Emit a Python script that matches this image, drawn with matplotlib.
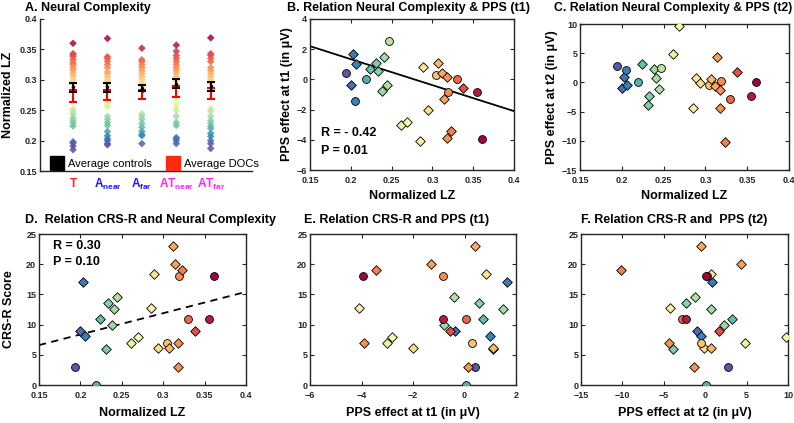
import numpy as np
import matplotlib
matplotlib.use("Agg")
import matplotlib.pyplot as plt
from matplotlib.lines import Line2D

plt.rcParams['font.family'] = ['Liberation Sans', 'DejaVu Sans']
plt.rcParams['mathtext.fontset'] = 'custom'
plt.rcParams['mathtext.rm'] = 'Liberation Sans'
plt.rcParams['mathtext.bf'] = 'Liberation Sans:bold'

# ---------------- data (per subject) ----------------
lz = [0.194, 0.200, 0.203, 0.205, 0.206, 0.219, 0.224, 0.231, 0.233, 0.238,
      0.241, 0.244, 0.247, 0.261, 0.269, 0.285, 0.289, 0.294, 0.304, 0.307,
      0.312, 0.314, 0.318, 0.318, 0.319, 0.323, 0.330, 0.338, 0.355, 0.361]
pps_t1 = [0.4, -0.35, 1.65, -1.45, 1.0, 0.05, 0.7, 1.1, 0.55, -0.8,
          1.5, -0.4, 2.55, -3.0, -2.8, -4.1, 0.85, -2.0, 0.28, 1.1,
          0.4, -1.3, 0.15, -3.9, -0.85, -3.45, 0.05, -0.55, -0.85, -3.95]
pps_t2 = [2.8, -1.0, 0.85, 2.2, -0.5, 0.1, 3.2, -3.9, -2.3, 2.3,
          0.7, -1.2, 2.4, 4.85, 9.7, -4.3, 0.75, -0.1, -0.45, 0.65,
          -0.55, 4.3, -1.3, -4.4, 0.25, -10.2, -2.85, 1.7, -2.3, 0.1]
crsr = [3, 9, 17, np.nan, 8.1, 0, 11, 6, 13.6, 10,
        12.6, 14.5, np.nan, 7, 8, 12.7, 18.4, 6.2, 7, 6.2,
        23, 20, 3, 7, 18, 19, 11, 9, 11, 18]
shape = ['o', 'D', 'D', 'o', 'D', 'o', 'D', 'D', 'D', 'D',
         'D', 'D', 'o', 'D', 'D', 'D', 'D', 'D', 'o', 'D',
         'D', 'D', 'D', 'D', 'o', 'D', 'o', 'D', 'o', 'o']

# regression line shown in panel B (as reported in the figure)
fit_t1_slope = -17.2
fit_t1_intercept = 4.78

# ---------------- panel A data ----------------
conditions = ['T', 'A_near', 'A_far', 'AT_near', 'AT_far']
lz_T = [0.360, 0.343, 0.341, 0.338, 0.333, 0.328, 0.325, 0.320, 0.316, 0.311,
        0.306, 0.300, 0.296, 0.292, 0.252, 0.248, 0.243, 0.237, 0.233, 0.229,
        0.224, 0.198, 0.196, 0.191, 0.185]
lz_Anear = [0.368, 0.338, 0.335, 0.330, 0.325, 0.320, 0.313, 0.310, 0.305, 0.300,
            0.296, 0.290, 0.265, 0.260, 0.256, 0.240, 0.235, 0.230, 0.225, 0.215,
            0.208, 0.203, 0.200, 0.195, 0.193]
lz_Afar = [0.352, 0.333, 0.330, 0.325, 0.320, 0.315, 0.310, 0.305, 0.300, 0.295,
           0.290, 0.244, 0.240, 0.235, 0.228, 0.222, 0.215, 0.210, 0.208, 0.195]
lz_ATnear = [0.357, 0.347, 0.340, 0.335, 0.330, 0.325, 0.320, 0.315, 0.310, 0.305,
             0.300, 0.290, 0.270, 0.265, 0.258, 0.250, 0.240, 0.230, 0.225, 0.205,
             0.203, 0.200, 0.195]
lz_ATfar = [0.369, 0.343, 0.340, 0.335, 0.330, 0.320, 0.315, 0.310, 0.305, 0.300,
            0.295, 0.252, 0.248, 0.240, 0.233, 0.228, 0.223, 0.220, 0.212, 0.207,
            0.200, 0.195, 0.187]
ctrl_mean = [0.288, 0.288, 0.2865, 0.2935, 0.2895]
ctrl_lo = [0.280, 0.280, 0.282, 0.286, 0.282]
ctrl_hi = [0.295, 0.295, 0.291, 0.301, 0.297]
doc_mean = [0.283, 0.283, 0.282, 0.289, 0.286]
doc_lo = [0.264, 0.266, 0.268, 0.271, 0.268]
doc_hi = [0.284, 0.284, 0.284, 0.290, 0.287]

# ---------------- styling ----------------
W, H = 794, 423
fig = plt.figure(figsize=(W / 100, H / 100), dpi=100)
cmap = plt.get_cmap('Spectral_r')
norm = plt.Normalize(0.19, 0.362)
GRAY = '#262626'
TICK_FS = 6.5
LAB_FS = 9
TITLE_FS = 9


def add_ax(x0, y0, x1, y1):
    return fig.add_axes([x0 / W, 1 - y1 / H, (x1 - x0) / W, (y1 - y0) / H])


def style(ax, box=True):
    for s in ax.spines.values():
        s.set_color(GRAY)
        s.set_linewidth(1.0)
    ax.tick_params(direction='in', length=3, width=0.8, colors=GRAY,
                   labelsize=TICK_FS, top=box, right=box, pad=2)
    ax.tick_params(axis='x', pad=4)
    for lab in ax.get_xticklabels() + ax.get_yticklabels():
        lab.set_fontweight('bold')


def title(x, y, txt, ha='left', fs=TITLE_FS):
    fig.text(x / W, 1 - y / H, txt, fontsize=fs, fontweight='bold',
             ha=ha, va='center', color='black')


def scatter_subjects(ax, xs, ys):
    for xv, yv, m, l in zip(xs, ys, shape, lz):
        if np.isnan(xv) or np.isnan(yv):
            continue
        ax.scatter([xv], [yv], marker=m, s=32 if m == 'o' else 24,
                   facecolor=cmap(norm(l)), edgecolor='black', linewidth=0.6,
                   zorder=3)


# ---------------- Panel A ----------------
axA = add_ax(40, 19, 252, 171)
groups = [lz_T, lz_Anear, lz_Afar, lz_ATnear, lz_ATfar]
xpos = np.arange(1, 6)
for xp, g in zip(xpos, groups):
    ax_vals = np.array(g)
    axA.scatter(np.full(len(ax_vals), xp), ax_vals, marker='D', s=15,
                c=[cmap(norm(v)) for v in ax_vals], edgecolor='none',
                alpha=0.85, zorder=2)
cm = np.array(ctrl_mean)
axA.errorbar(xpos, cm, yerr=[cm - np.array(ctrl_lo), np.array(ctrl_hi) - cm],
             fmt='.', color='black', ecolor='black', capsize=3, elinewidth=1.5,
             capthick=1.5, markersize=3, zorder=4)
dm = np.array(doc_mean)
axA.errorbar(xpos, dm, yerr=[dm - np.array(doc_lo), np.array(doc_hi) - dm],
             fmt='.', color='red', ecolor='red', capsize=3, elinewidth=1.5,
             capthick=1.5, markersize=3, zorder=3)
axA.set_xlim(0.04, 6.2)
axA.set_ylim(0.15, 0.4)
axA.set_yticks([0.15, 0.2, 0.25, 0.3, 0.35, 0.4])
axA.set_yticklabels(['0.15', '0.2', '0.25', '0.3', '0.35', '0.4'])
axA.spines['top'].set_visible(False)
axA.spines['right'].set_visible(False)
axA.set_xticks(xpos)
xlabs = [r'$\mathbf{T}$', r'$\mathbf{A}_{\mathbf{near}}$', r'$\mathbf{A}_{\mathbf{far}}$',
         r'$\mathbf{AT}_{\mathbf{near}}$', r'$\mathbf{AT}_{\mathbf{far}}$']
axA.set_xticklabels(xlabs)
style(axA, box=False)
axA.tick_params(axis='x', length=0, labelsize=8.5, pad=4)
for lab, col in zip(axA.get_xticklabels(), ['#ff2020', '#1a1aff', '#1a1aff', '#ff22ff', '#ff22ff']):
    lab.set_color(col)
axA.set_ylabel('Normalized LZ', fontsize=LAB_FS, fontweight='bold', labelpad=4)
handles = [Line2D([], [], marker='s', color='black', linestyle='none', markersize=10),
           Line2D([], [], marker='s', color='#ff2a10', linestyle='none', markersize=10)]
axA.legend(handles, ['Average controls', 'Average DOCs'], ncol=2, frameon=False,
           loc='lower left', bbox_to_anchor=(0.0, -0.05), fontsize=8,
           handletextpad=0.4, columnspacing=1.3, handlelength=1.2)
title(25, 8, 'A. Neural Complexity')

# ---------------- Panel B ----------------
axB = add_ax(310, 19, 514, 170)
scatter_subjects(axB, lz, pps_t1)
xx = np.array([0.15, 0.4])
axB.plot(xx, fit_t1_intercept + fit_t1_slope * xx, color='black', lw=1.3, zorder=2)
axB.set_xlim(0.15, 0.4)
axB.set_ylim(-6, 4)
axB.set_xticks([0.15, 0.2, 0.25, 0.3, 0.35, 0.4])
axB.set_xticklabels(['0.15', '0.2', '0.25', '0.3', '0.35', '0.4'])
axB.set_yticks([-6, -4, -2, 0, 2, 4])
style(axB)
axB.set_xlabel('Normalized LZ', fontsize=LAB_FS, fontweight='bold', labelpad=4)
axB.set_ylabel('PPS effect at t1 (in μV)', fontsize=LAB_FS, fontweight='bold', labelpad=3)
axB.text(0.163, -3.55, 'R = - 0.42', fontsize=9, fontweight='bold', va='center')
axB.text(0.163, -4.75, 'P = 0.01', fontsize=9, fontweight='bold', va='center')
title(287, 8, 'B. Relation Neural Complexity & PPS (t1)')

# ---------------- Panel C ----------------
axC = add_ax(580, 24, 789, 170)
scatter_subjects(axC, lz, pps_t2)
axC.set_xlim(0.15, 0.4)
axC.set_ylim(-15, 10)
axC.set_xticks([0.15, 0.2, 0.25, 0.3, 0.35, 0.4])
axC.set_xticklabels(['0.15', '0.2', '0.25', '0.3', '0.35', '0.4'])
axC.set_yticks([-15, -10, -5, 0, 5, 10])
style(axC)
axC.set_xlabel('Normalized LZ', fontsize=LAB_FS, fontweight='bold', labelpad=4)
axC.set_ylabel('PPS effect at t2 (in μV)', fontsize=LAB_FS, fontweight='bold', labelpad=3)
title(792, 8, 'C. Relation Neural Complexity & PPS (t2)', ha='right', fs=8.8)

# ---------------- Panel D ----------------
axD = add_ax(39, 234, 246, 385)
scatter_subjects(axD, lz, crsr)
lzB = np.array(lz)
crs_arr = np.array(crsr, dtype=float)
ok = ~np.isnan(crs_arr)
kd = np.polyfit(lzB[ok], crs_arr[ok], 1)
axD.plot(xx, np.polyval(kd, xx), color='black', lw=1.3, ls=(0, (4, 3)), zorder=2)
axD.set_xlim(0.15, 0.4)
axD.set_ylim(0, 25)
axD.set_xticks([0.15, 0.2, 0.25, 0.3, 0.35, 0.4])
axD.set_xticklabels(['0.15', '0.2', '0.25', '0.3', '0.35', '0.4'])
axD.set_yticks([0, 5, 10, 15, 20, 25])
style(axD)
axD.set_xlabel('Normalized LZ', fontsize=LAB_FS, fontweight='bold', labelpad=5)
axD.set_ylabel('CRS-R Score', fontsize=LAB_FS, fontweight='bold', labelpad=8)
axD.text(0.167, 23, 'R = 0.30', fontsize=9, fontweight='bold', va='center')
axD.text(0.167, 20.3, 'P = 0.10', fontsize=9, fontweight='bold', va='center')
title(25, 220, 'D.  Relation CRS-R and Neural Complexity')

# ---------------- Panel E ----------------
axE = add_ax(310, 234, 516, 385)
scatter_subjects(axE, pps_t1, crsr)
axE.set_xlim(-6, 2)
axE.set_ylim(0, 25)
axE.set_xticks([-6, -4, -2, 0, 2])
axE.set_yticks([0, 5, 10, 15, 20, 25])
style(axE)
axE.set_xlabel('PPS effect at t1 (in μV)', fontsize=LAB_FS, fontweight='bold', labelpad=5)
title(304, 220, 'E. Relation CRS-R and PPS (t1)')

# ---------------- Panel F ----------------
axF = add_ax(581, 234, 788, 385)
scatter_subjects(axF, pps_t2, crsr)
axF.set_xlim(-15, 10)
axF.set_ylim(0, 25)
axF.set_xticks([-15, -10, -5, 0, 5, 10])
axF.set_yticks([0, 5, 10, 15, 20, 25])
style(axF)
axF.set_xlabel('PPS effect at t2 (in μV)', fontsize=LAB_FS, fontweight='bold', labelpad=5)
title(581, 220, 'F. Relation CRS-R and  PPS (t2)')

fig.savefig('out.png', dpi=100)
